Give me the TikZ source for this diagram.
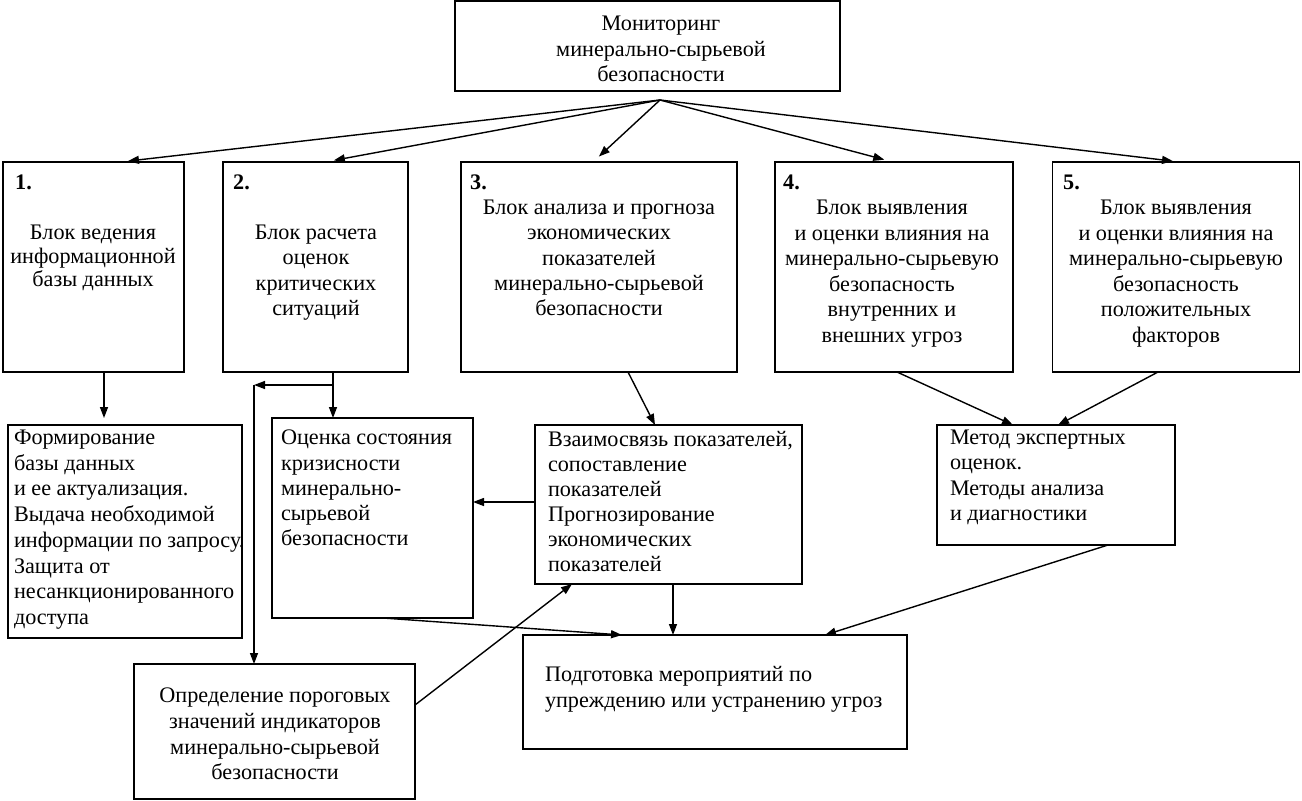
\documentclass[tikz,border=0pt]{standalone}
\usepackage{fontspec}
\setmainfont{Liberation Serif}
\usetikzlibrary{arrows.meta}
\begin{document}
\begin{tikzpicture}[x=1pt,y=-1pt,
  box/.style={draw, line width=1.4pt, inner sep=0pt, outer sep=0pt},
  txt/.style={inner sep=0pt, outer sep=0pt, font=\fontsize{22.2}{25.3}\selectfont},
  ctxt/.style={txt, align=center, anchor=north},
  ltxt/.style={txt, align=left, anchor=north west},
  numlbl/.style={inner sep=0pt, anchor=base west, font=\fontsize{22.2}{25}\selectfont\bfseries},
  conn/.style={line width=1.4pt, -{Triangle[length=11pt,width=8pt]}},
  plain/.style={line width=1.4pt}]
\useasboundingbox (0,0) rectangle (1302,801);

% boxes
\node[box, minimum width=385pt, minimum height=90pt] (top) at (647.5,46) {};
\node[box, minimum width=181pt, minimum height=210pt] (b1) at (93.5,267) {};
\node[box, minimum width=185pt, minimum height=210pt] (b2) at (315.5,267) {};
\node[box, minimum width=276pt, minimum height=210pt] (b3) at (599,267) {};
\node[box, minimum width=238pt, minimum height=210pt] (b4) at (894,267) {};
\node[box, minimum width=247pt, minimum height=210pt] (b5) at (1176,267) {};
\node[box, minimum width=234pt, minimum height=213pt] (f1) at (125,531.5) {};
\node[box, minimum width=201pt, minimum height=200pt] (f2) at (372.5,518) {};
\node[box, minimum width=267pt, minimum height=159pt] (f3) at (668.5,504.5) {};
\node[box, minimum width=238pt, minimum height=120pt] (f4) at (1056,485) {};
\node[box, minimum width=384pt, minimum height=114pt] (f5) at (715,692) {};
\node[box, minimum width=281pt, minimum height=135pt] (f6) at (274.5,731.5) {};

% texts
\node[ctxt, font=\fontsize{22.2}{25.5}\selectfont] (ttop) at (661,16) {Мониторинг\\минерально-сырьевой\\безопасности};
\node[numlbl] (n1) at (15,189) {1.};
\node[numlbl] (n2) at (233,189) {2.};
\node[numlbl] (n3) at (470,189) {3.};
\node[numlbl] (n4) at (783,189) {4.};
\node[numlbl] (n5) at (1063,189) {5.};
\node[ctxt, font=\fontsize{22.2}{23.5}\selectfont] (t1) at (93,225) {Блок ведения\\информационной\\базы данных};
\node[ctxt] (t2) at (316,225) {Блок расчета\\оценок\\критических\\ситуаций};
\node[ctxt] (t3) at (599,200) {Блок анализа и прогноза\\экономических\\показателей\\минерально-сырьевой\\безопасности};
\node[ctxt, font=\fontsize{22.2}{25.6}\selectfont] (t4) at (892,200) {Блок выявления\\и оценки влияния на\\минерально-сырьевую\\безопасность\\внутренних и\\внешних угроз};
\node[ctxt, font=\fontsize{22.2}{25.6}\selectfont] (t5) at (1176,200) {Блок выявления\\и оценки влияния на\\минерально-сырьевую\\безопасность\\положительных\\факторов};
\node[ltxt, font=\fontsize{22.2}{25.7}\selectfont] (tf1) at (14,430) {Формирование\\базы данных\\и ее актуализация.\\Выдача необходимой\\информации по запросу.\\Защита от\\несанкционированного\\доступа};
\node[ltxt] (tf2) at (281,430) {Оценка состояния\\кризисности\\минерально-\\сырьевой\\безопасности};
\node[ltxt, font=\fontsize{22.2}{25}\selectfont] (tf3) at (548,431) {Взаимосвязь показателей,\\сопоставление\\показателей\\Прогнозирование\\экономических\\показателей};
\node[ltxt] (tf4) at (950,430) {Метод экспертных\\оценок.\\Методы анализа\\и диагностики};
\node[ltxt, font=\fontsize{22.2}{26.5}\selectfont] (tf5) at (545,666) {Подготовка мероприятий по\\упреждению или устранению угроз};
\node[ctxt, font=\fontsize{22.2}{25.7}\selectfont] (tf6) at (275,688) {Определение пороговых\\значений индикаторов\\минерально-сырьевой\\безопасности};

% connectors from the top box
\coordinate (apex) at (660,100);
\draw[conn, shorten >=8pt] (apex) -- (120,0 |- b1.north);
\draw[conn, shorten >=9pt] (apex) -- (325,0 |- b2.north);
\draw[conn, shorten >=8pt] (apex) -- (593,0 |- b3.north);
\draw[conn, shorten >=9pt] (apex) -- (893,0 |- b4.north);
\draw[conn, shorten >=7pt] (apex) -- (1180,0 |- b5.north);

% lower connectors
\draw[conn, shorten >=7pt] (104,0 |- b1.south) -- (104,0 |- f1.north);
\draw[conn] (333,0 |- b2.south) -- (333,0 |- f2.north);
\coordinate (bj) at (333,385);
\coordinate (br) at (254,385);
\draw[conn] (bj) -- (br);
\draw[conn] (br) -- (br |- f6.north);
\draw[conn] (628,0 |- b3.south) -- (655,0 |- f3.north);
\draw[conn] (f3.west |- 0,502) -- (f2.east |- 0,502);
\draw[conn] (673,0 |- f3.south) -- (673,0 |- f5.north);
\draw[conn] (383,0 |- f2.south) -- (622,0 |- f5.north);
\draw[conn] (f6.east |- 0,705) -- (572,0 |- f3.south);
\draw[conn] (897,0 |- b4.south) -- (1013,0 |- f4.north);
\draw[conn] (1158,0 |- b5.south) -- (1058,0 |- f4.north);
\draw[conn] (1108,0 |- f4.south) -- (825,0 |- f5.north);
\end{tikzpicture}
\end{document}
